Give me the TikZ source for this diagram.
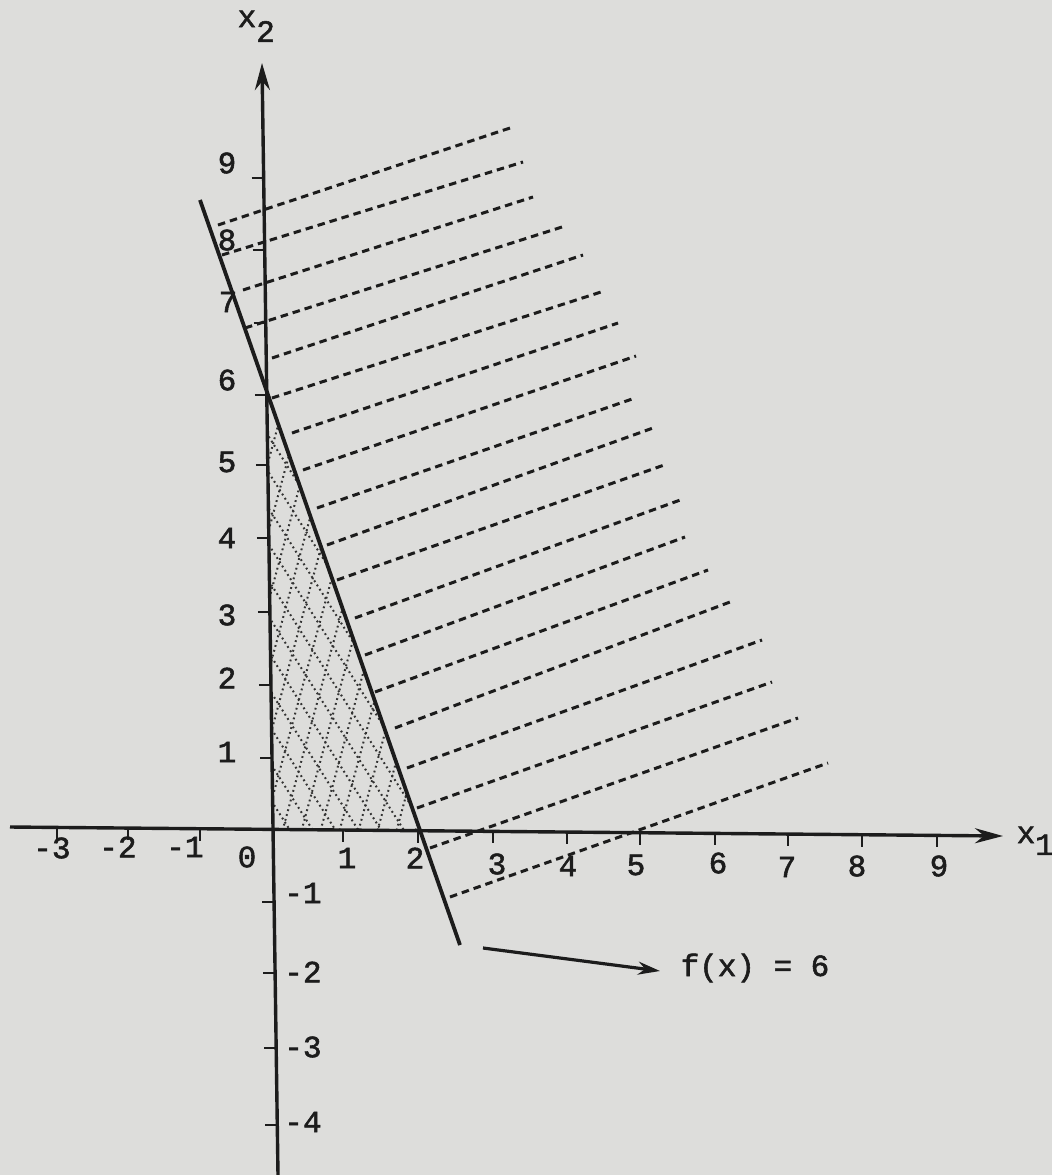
\documentclass[tikz,border=0pt]{standalone}
\usepackage{fontspec}
\newfontfamily\tw{Liberation Mono}[FakeBold=1.8]
\usetikzlibrary{arrows.meta}
\definecolor{paper}{RGB}{221,221,219}
\definecolor{ink}{RGB}{28,28,28}
\begin{document}
\begin{tikzpicture}[x=0.01cm,y=-0.01cm,
  lbl/.style={font=\tw\fontsize{8.8}{10}\selectfont, text=ink, inner sep=0pt},
  axisline/.style={line width=0.034cm, draw=ink},
  mainline/.style={line width=0.038cm, draw=ink},
  tickmark/.style={line width=0.026cm, draw=ink},
  hatchline/.style={line width=0.03cm, draw=ink, dash pattern=on 0.075cm off 0.05cm},
  dotline/.style={line width=0.02cm, draw=black!80, dash pattern=on 0.018cm off 0.032cm},
  pointer/.style={line width=0.032cm, draw=ink, -{Stealth[length=0.22cm, width=0.13cm]}}
]
\useasboundingbox (0,0) rectangle (1052,1175);
\fill[paper] (0,0) rectangle (1052,1175);

% key points
\coordinate (O) at (273,829.4);
\coordinate (A) at (267.5,395);
\coordinate (B) at (420,831);
\coordinate (L1) at (200,200);
\coordinate (L2) at (460,945);

% cross-hatched feasible triangle
\begin{scope}
  \clip (A) -- (O) -- (B) -- cycle;
  \foreach \c in {335,371,...,875} \draw[dotline] (250,\c) -- ++(300,474);
  \foreach \x in {147,166,...,440} \draw[dotline] (\x,840) -- ++(130,-481);
\end{scope}

% dashed hatching of the other half-plane
\foreach \xa/\ya/\xb/\yb in {218/225/513/127, 222/255/523/162, 243/290/533/197,
  245/328/562/227, 272/358/583/255, 272/398/601/292, 292/433/618/323,
  303/470/636/356, 317/508/635/398, 327/545/653/428, 337/580/667/464,
  355/618/683/499, 365/655/685/537, 375/692/708/570, 395/728/730/602,
  407/768/762/640, 417/808/772/682, 430/848/798/718, 450/897/828/763}
  \draw[hatchline] (\xa,\ya) -- (\xb,\yb);

% axes
\coordinate (XS) at (10,827);
\coordinate (XE) at (1003,836);
\coordinate (YS) at (278,1175);
\coordinate (YE) at (262,63);
\draw[axisline, -{Stealth[open, length=0.28cm, width=0.15cm]}] (XS) -- (XE);
\draw[axisline, -{Stealth[length=0.27cm, width=0.15cm]}] (YS) -- (YE);

% ticks
\foreach \x in {57,128,200,343,418,493,567,640,715,788,862,937}
  \draw[tickmark] (\x,{827+0.00907*(\x-10)}) -- ++(0,12);
\foreach \y in {178,250,323,395,465,538,612,685,758,902,973,1048,1125}
  \draw[tickmark] ({262+0.01439*(\y-63)-12},\y) -- ++(12,0);

% constraint line
\draw[mainline] (L1) -- (L2);

% tick labels
\foreach \t/\px/\py [count=\k] in {-3/52/848, -2/118/847, -1/185/847, 0/247/857,
  1/347/858, 2/415/858, 3/497/864, 4/568/866, 5/636/865, 6/718/863,
  7/787/867, 8/857/866, 9/939/866}
  \node[lbl] (xl\k) at (\px,\py) {\t};
\foreach \t/\px/\py [count=\k] in {1/227/752, 2/227/678, 3/227/615, 4/227/538,
  5/227/462, 6/227/380, 7/228/302, 8/227/240, 9/227/163,
  -1/303/893, -2/303/972, -3/303/1047, -4/303/1122}
  \node[lbl] (yl\k) at (\px,\py) {\t};

% axis names
\node[lbl, anchor=base west] (x2lab) at (237,27) {x\raisebox{-4.2pt}{2}};
\node[lbl, anchor=base west] (x1lab) at (1016,843) {x\raisebox{-3.4pt}{1}};

% label of the line
\coordinate (PS) at (483,948);
\coordinate (PE) at (660,971);
\node[lbl, anchor=west] (flab) at (680,968) {f(x) = 6};
\draw[pointer] (PS) -- (PE);
\end{tikzpicture}
\end{document}
